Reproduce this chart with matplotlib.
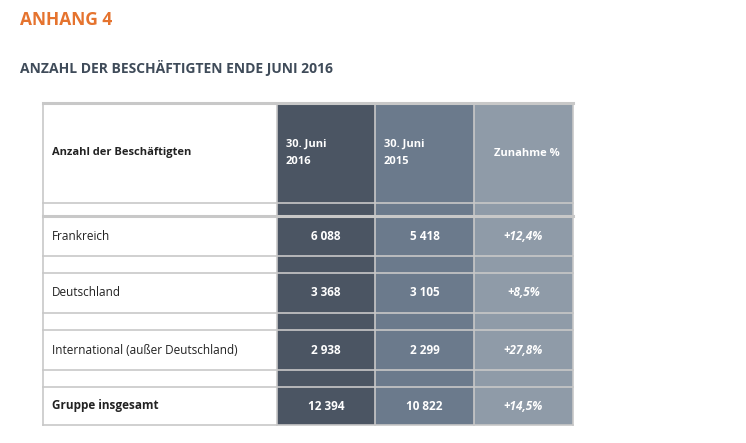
import matplotlib.pyplot as plt
from matplotlib.patches import Rectangle

plt.rcParams['font.family'] = 'Open Sans'

title = "ANHANG 4"
subtitle = "ANZAHL DER BESCHÄFTIGTEN ENDE JUNI 2016"
header_label = "Anzahl der Beschäftigten"
col_headers = ["30. Juni\n2016", "30. Juni\n2015", "Zunahme %"]
rows = ["Frankreich", "Deutschland", "International (außer Deutschland)", "Gruppe insgesamt"]
jun_2016 = ["6 088", "3 368", "2 938", "12 394"]
jun_2015 = ["5 418", "3 105", "2 299", "10 822"]
zunahme = ["+12,4%", "+8,5%", "+27,8%", "+14,5%"]

W, H = 746, 443
fig = plt.figure(figsize=(W / 100, H / 100), dpi=100)
ax = fig.add_axes([0, 0, 1, 1])
ax.set_xlim(0, W)
ax.set_ylim(H, 0)
ax.axis('off')

ax.text(20, 20, title, color='#e5732e', fontsize=12.5, fontweight='bold', va='center')
ax.text(20, 68, subtitle, color='#3f4b59', fontsize=10, fontweight='bold', va='center')

# table geometry (pixels)
col_x = [43, 277, 375, 474, 573]
col_colors = ['#4b5563', '#6b7a8c', '#8f9ba8']
line_c = '#c8c8c8'
header_top, header_bot = 103, 203
row_tops = [216, 273, 330, 387]
row_h = [40, 40, 40, 38]
bottom = 425

for i, c in enumerate(col_colors):
    ax.add_patch(Rectangle((col_x[i + 1], header_top), col_x[i + 2] - col_x[i + 1],
                           bottom - header_top, color=c, lw=0))

# horizontal lines
hlines = [header_top, header_bot]
for t, h in zip(row_tops, row_h):
    hlines += [t, t + h]
for y in hlines:
    lw = 2.2 if y == row_tops[0] or y == header_top else 1.2
    ax.plot([col_x[0], col_x[-1]], [y, y], color=line_c, lw=lw)
for x in col_x:
    ax.plot([x, x], [header_top, bottom], color=line_c, lw=1.2)

# header
ax.text(52, 153, header_label, fontsize=8, fontweight='bold', color='#222222', va='center')
for i, txt in enumerate(col_headers):
    ax.text(col_x[i + 1] + 9 if i < 2 else (col_x[i + 1] + col_x[i + 2]) / 2 + 3, 153, txt,
            fontsize=8, fontweight='bold', color='white', va='center',
            ha='left' if i < 2 else 'center', linespacing=1.7)

for r, (name, a, b, z) in enumerate(zip(rows, jun_2016, jun_2015, zunahme)):
    yc = row_tops[r] + row_h[r] / 2
    bold = 'bold' if r == len(rows) - 1 else 'normal'
    ax.text(52, yc, name, fontsize=8.5, fontweight=bold, color='#222222', va='center')
    for i, v in enumerate([a, b, z]):
        ax.text((col_x[i + 1] + col_x[i + 2]) / 2, yc, v, fontsize=8.5, fontweight='bold',
                color='white', va='center', ha='center', style='italic' if i == 2 else 'normal')

fig.savefig('out.png', dpi=100)
